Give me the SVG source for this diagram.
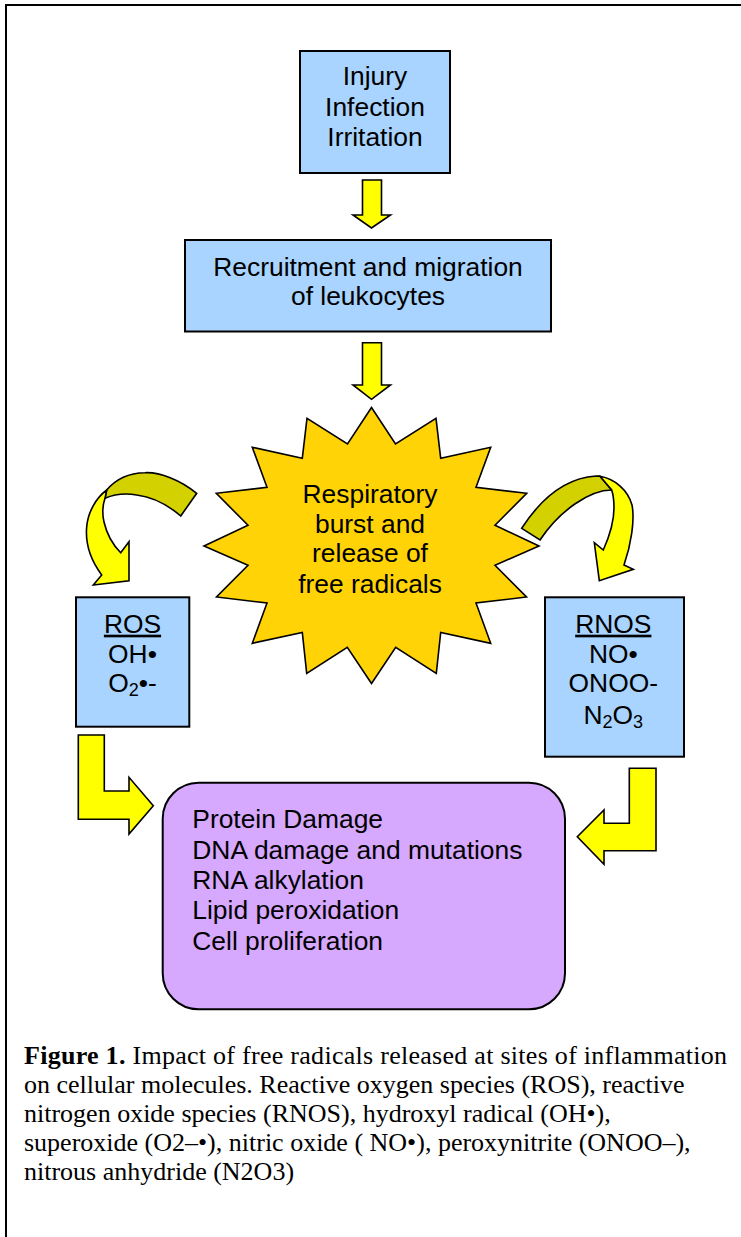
<svg xmlns="http://www.w3.org/2000/svg" width="741" height="1237" viewBox="0 0 741 1237">
<style>
.box{fill:#A8D4FF;stroke:#000;stroke-width:2}
.arrow{fill:#FFFF00;stroke:#000;stroke-width:1.6;stroke-linejoin:miter}
.dark{fill:#D3D100;stroke:#000;stroke-width:1.6}
.t{font-family:"Liberation Sans",Arial,sans-serif;font-size:26.4px;fill:#000;text-anchor:middle}
.tl{font-family:"Liberation Sans",Arial,sans-serif;font-size:26.4px;fill:#000}
.cap{font-family:"Liberation Serif","Times New Roman",serif;font-size:26px;fill:#000}
</style>
<rect x="0" y="0" width="741" height="1237" fill="#fff"/>
<g id="frame" stroke="#000" stroke-width="2" fill="none">
<line x1="5" y1="5" x2="741" y2="5"/>
<line x1="6" y1="5" x2="6" y2="1237"/>
</g>
<g id="connectors">
<polygon class="arrow" points="362.5,180 381.5,180 381.5,215 390.5,215 371.5,228 353,215 362.5,215"/>
<polygon class="arrow" points="362.5,342.7 381.5,342.7 381.5,385 390.5,385 371.5,399.3 353,385 362.5,385"/>
<path class="dark" d="M196.7,493.3 C180,480 160,472 145,472.7 C128,473 115,480 106.7,490 L105,498.3 C115,494 125,493 136.7,495 C152,497 168,505 180.7,516 Z"/>
<path class="arrow" d="M106.7,490 C96,498 88,512 86.7,526.7 C85,545 92,562 101.7,575 L93.3,585 L129,580.7 L129,541.7 L120.7,552.7 C113,545 107,535 104,522 C102,513 103,504 105,498.3 Z"/>
<path class="dark" d="M521.7,528.3 C540,500 565,478 596,476 L600,476.3 L611.7,490 C590,490 560,510 540,540 Z"/>
<path class="arrow" d="M600,476.3 C615,479 628,490 632,505 C635,520 631,545 624,565 L633.3,569.3 L599.3,580.7 L594.3,542.7 L603.3,550 C610,535 614,522 614,508 C614,500 613,494 611.7,490 Z"/>
<polygon class="arrow" points="78.3,735 104.3,735 104.3,791 129,791 129,777.3 153.3,805.7 129,834 129,819.3 78.3,819.3"/>
<polygon class="arrow" points="629.3,768.3 656,768.3 656,850.7 604,850.7 604,864.3 577.3,836.7 604,810 604,823.3 629.3,823.3"/>
</g>
<g id="injury">
<rect class="box" x="300" y="51" width="150" height="122"/>
<text class="t" x="375" y="85">Injury</text>
<text class="t" x="375" y="115.7">Infection</text>
<text class="t" x="375" y="145.7">Irritation</text>
</g>
<g id="recruitment">
<rect class="box" x="185" y="240" width="366" height="91.5"/>
<text class="t" x="368" y="275.7">Recruitment and migration</text>
<text class="t" x="368" y="305">of leukocytes</text>
</g>
<g id="burst">
<polygon fill="#FFD306" stroke="#000" stroke-width="1.6" points="371.5,407.5 395.5,444 436,418.3 440.7,458.3 490.7,447.3 476,487.3 526.7,493.3 495,525.3 539,546 495,565.3 526.5,597 476,603 490.7,643.3 440.7,632.5 436.3,673.3 395.7,647.3 371.5,683.5 347.3,647.3 306.7,673.3 302.3,632.5 252.3,643.3 267,603 216.5,597 248,565.3 204,546 248,525.3 216.3,493.3 267,487.3 252.3,447.3 302.3,458.3 307,418.3 347.5,444"/>
<text class="t" x="370" y="502.7">Respiratory</text>
<text class="t" x="370" y="532.7">burst and</text>
<text class="t" x="370" y="561.7">release of</text>
<text class="t" x="370" y="593.3">free radicals</text>
</g>
<g id="ros">
<rect class="box" x="76" y="597.3" width="113.3" height="129.4"/>
<text class="t" x="132.5" y="632.7" text-decoration="underline">ROS</text>
<text class="t" x="132.5" y="662.7">OH•</text>
<text class="t" x="132.5" y="691.7">O<tspan font-size="18" dy="4">2</tspan><tspan dy="-4">•-</tspan></text>
</g>
<g id="rnos">
<rect class="box" x="545" y="597.3" width="139" height="159.4"/>
<text class="t" x="613.3" y="632.7" text-decoration="underline">RNOS</text>
<text class="t" x="613.3" y="662.7">NO•</text>
<text class="t" x="613.3" y="692.3">ONOO-</text>
<text class="t" x="613.3" y="724">N<tspan font-size="18" dy="4">2</tspan><tspan dy="-4">O</tspan><tspan font-size="18" dy="4">3</tspan></text>
</g>
<g id="effects">
<rect x="162.7" y="782.7" width="402.3" height="226.6" rx="36" ry="36" fill="#D6A8FE" stroke="#000" stroke-width="2"/>
<text class="tl" x="192.3" y="828.3">Protein Damage</text>
<text class="tl" x="192.3" y="858.6">DNA damage and mutations</text>
<text class="tl" x="192.3" y="888.9">RNA alkylation</text>
<text class="tl" x="192.3" y="919.2">Lipid peroxidation</text>
<text class="tl" x="192.3" y="949.5">Cell proliferation</text>
</g>
<g id="caption">
<text class="cap" x="24" y="1064" textLength="703" lengthAdjust="spacing"><tspan font-weight="bold">Figure 1.</tspan> Impact of free radicals released at sites of inflammation</text>
<text class="cap" x="24" y="1093">on cellular molecules. Reactive oxygen species (ROS), reactive</text>
<text class="cap" x="24" y="1122">nitrogen oxide species (RNOS), hydroxyl radical (OH•),</text>
<text class="cap" x="24" y="1151">superoxide (O2–•), nitric oxide ( NO•), peroxynitrite (ONOO–),</text>
<text class="cap" x="24" y="1180">nitrous anhydride (N2O3)</text>
</g>
</svg>
